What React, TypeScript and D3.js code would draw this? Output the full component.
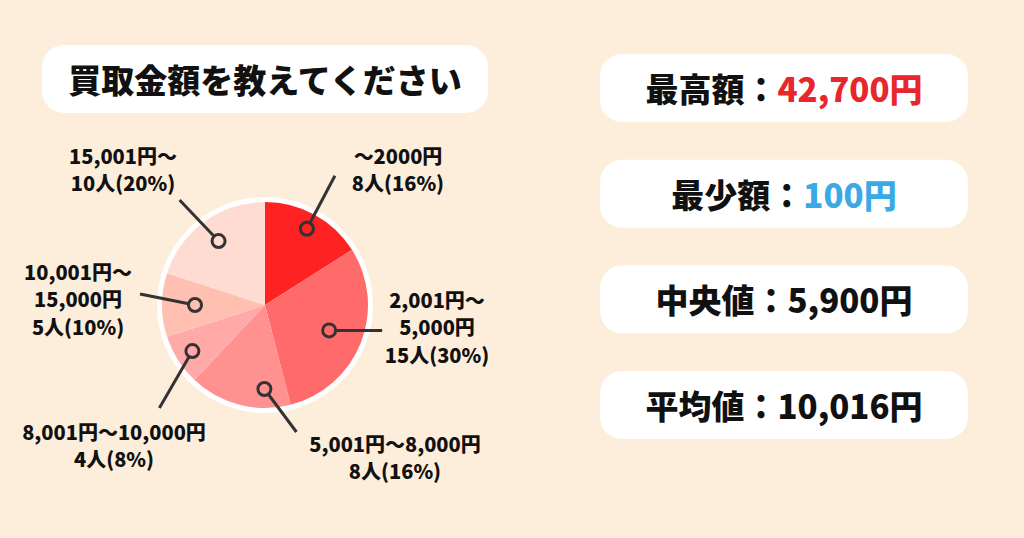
import * as d3 from 'd3';

// ── Data ───────────────────────────────────────────────────────────────────
const RANGES = ['～2000円', '2,001円～5,000円', '5,001円～8,000円', '8,001円～10,000円', '10,001円～15,000円', '15,001円～'];
const COUNTS = [8, 15, 8, 4, 5, 10];
// how each range label is broken into lines
const RANGE_LINES = [
  ['～2000円'],
  ['2,001円～', '5,000円'],
  ['5,001円～8,000円'],
  ['8,001円～10,000円'],
  ['10,001円～', '15,000円'],
  ['15,001円～'],
];
const SLICE_COLORS = ['#ff2222', '#ff6a6a', '#ff9191', '#ffa9a9', '#ffc0b1', '#ffdcd2'];

const TITLE = '買取金額を教えてください';
const STAT_NAMES = ['最高額', '最少額', '中央値', '平均値'];
const STAT_VALUES = ['42,700円', '100円', '5,900円', '10,016円'];
const STAT_COLORS = ['#e8262b', '#3aa9e6', '#111', '#111'];

// ── Layout ─────────────────────────────────────────────────────────────────
const W = 1024;
const H = 538;
const CX = 265;
const CY = 305;
const R = 103;
const FONT = '"Noto Sans CJK JP", "Noto Sans", sans-serif';

// dot placement: radius from centre and angle nudge (deg) per slice
const DOT_R = [87, 69, 84, 86, 70, 79];
const DOT_NUDGE = [0, 0, -14, 0, 0, 0];
// leader line vector from the dot
const LEADER = [
  [28, -53],
  [53, 0],
  [32, 43],
  [-33, 57],
  [-55, -11],
  [-39, -41],
];
// label anchor (centre of first line) relative to pie centre
const LABEL_POS = [
  [133, -150],
  [172, -6],
  [130, 138],
  [-151, 126],
  [-187, -34],
  [-142, -150],
];
const LINE_H = 27.5;

const STAT_X = 600;
const STAT_W = 368;
const STAT_H = 68;
const STAT_Y = d3.scaleLinear().domain([0, 3]).range([54, 371]);

export default function App() {
  const total = d3.sum(COUNTS);
  const pie = d3
    .pie<number>()
    .sort(null)
    .value((d) => d)(COUNTS);
  const arc = d3.arc<d3.PieArcDatum<number>>().innerRadius(0).outerRadius(R);

  return (
    <svg
      width={W}
      height={H}
      viewBox={`0 0 ${W} ${H}`}
      style={{ position: 'fixed', left: 0, top: 0, display: 'block' }}
      fontFamily={FONT}
    >
      <rect width={W} height={H} fill="#fdeedb" />

      {/* title */}
      <rect x={42} y={45} width={446} height={68} rx={22} fill="#fff" />
      <text
        x={265}
        y={79}
        textAnchor="middle"
        dominantBaseline="central"
        fontSize={33}
        fontWeight={900}
        fill="#111"
      >
        {TITLE}
      </text>

      {/* pie */}
      <g transform={`translate(${CX},${CY})`}>
        <circle r={R + 5} fill="#fff" />
        {pie.map((p, i) => (
          <path key={RANGES[i]} d={arc(p) ?? ''} fill={SLICE_COLORS[i]} />
        ))}
        {pie.map((p, i) => {
          const a = (p.startAngle + p.endAngle) / 2 + (DOT_NUDGE[i] * Math.PI) / 180;
          const dx = Math.sin(a) * DOT_R[i];
          const dy = -Math.cos(a) * DOT_R[i];
          return (
            <g key={`dot-${i}`}>
              <line
                x1={dx}
                y1={dy}
                x2={dx + LEADER[i][0]}
                y2={dy + LEADER[i][1]}
                stroke="#333"
                strokeWidth={3}
              />
              <circle cx={dx} cy={dy} r={6.5} fill={SLICE_COLORS[i]} stroke="#333" strokeWidth={3} />
            </g>
          );
        })}
        {pie.map((p, i) => {
          const lines = [...RANGE_LINES[i], `${COUNTS[i]}人(${Math.round((COUNTS[i] / total) * 100)}%)`];
          return (
            <text
              key={`lbl-${i}`}
              textAnchor="middle"
              fontSize={20}
              fontWeight={900}
              fill="#111"
            >
              {lines.map((t, j) => (
                <tspan
                  key={j}
                  x={LABEL_POS[i][0]}
                  y={LABEL_POS[i][1] + j * LINE_H}
                  dominantBaseline="central"
                >
                  {t}
                </tspan>
              ))}
            </text>
          );
        })}
      </g>

      {/* stats */}
      {STAT_NAMES.map((name, i) => (
        <g key={name} transform={`translate(${STAT_X},${STAT_Y(i)})`}>
          <rect width={STAT_W} height={STAT_H} rx={22} fill="#fff" />
          <text
            x={STAT_W / 2}
            y={STAT_H / 2}
            textAnchor="middle"
            dominantBaseline="central"
            fontSize={33}
            fontWeight={900}
            fill="#111"
          >
            {name}：<tspan fill={STAT_COLORS[i]}>{STAT_VALUES[i]}</tspan>
          </text>
        </g>
      ))}
    </svg>
  );
}
